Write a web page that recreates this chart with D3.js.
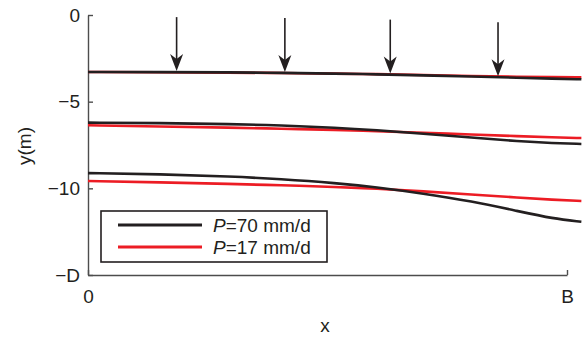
<!DOCTYPE html>
<html>
<head>
<meta charset="utf-8">
<script src="https://cdn.jsdelivr.net/npm/d3@7"></script>
<style>
  body { margin: 0; background: #fff; }
  text { font-family: "Liberation Sans", Arial, sans-serif; fill: #231f20; }
</style>
</head>
<body>
<div id="chart"></div>
<script>
var w = 586;
var h = 339;

// x positions along the slope (0 .. B, B = 1)
var xs = [0, 0.15, 0.3, 0.4, 0.52, 0.6, 0.7, 0.8, 0.9, 0.97, 1.03];

// water table depths, P = 70 mm/d (black)
var black1 = [-3.29, -3.29, -3.31, -3.34, -3.38, -3.42, -3.48, -3.55, -3.62, -3.67, -3.71];
var black2 = [-6.21, -6.23, -6.29, -6.37, -6.50, -6.64, -6.85, -7.07, -7.29, -7.39, -7.44];
var black3 = [-9.12, -9.18, -9.32, -9.46, -9.70, -9.93, -10.30, -10.74, -11.33, -11.74, -11.93];

// P = 17 mm/d (red)
var red1 = [-3.29, -3.30, -3.32, -3.35, -3.38, -3.41, -3.46, -3.52, -3.56, -3.59, -3.60];
var red2 = [-6.36, -6.43, -6.50, -6.56, -6.63, -6.70, -6.79, -6.90, -6.99, -7.06, -7.10];
var red3 = [-9.58, -9.65, -9.75, -9.82, -9.92, -10.02, -10.17, -10.35, -10.54, -10.66, -10.73];

var arrowX = [0.185, 0.411, 0.631, 0.856];

var yTicks = [0, -5, -10, -15];
var yTickLabels = ["0", "\u22125", "\u221210", "\u2212D"];
var xTicks = [0, 1];
var xTickLabels = ["0", "B"];

var legendLabels = ["=70 mm/d", "=17 mm/d"];
var colors = ["#231f20", "#ec1c24"];

var x = d3.scaleLinear().domain([0, 1]).range([88, 567]);
var y = d3.scaleLinear().domain([-15, 0]).range([275, 15]);

var svg = d3.select("#chart").append("svg")
            .attr("width", w)
            .attr("height", h);

// axes
var yAxis = d3.axisLeft(y)
              .tickValues(yTicks)
              .tickFormat(function(d, i) { return yTickLabels[i]; })
              .tickSizeInner(-5)
              .tickSizeOuter(0)
              .tickPadding(8);
var xAxis = d3.axisBottom(x)
              .tickValues(xTicks)
              .tickFormat(function(d, i) { return xTickLabels[i]; })
              .tickSizeInner(-5)
              .tickSizeOuter(0)
              .tickPadding(15);

var gy = svg.append("g").attr("transform", "translate(" + x(0) + ",0)").call(yAxis);
var gx = svg.append("g").attr("transform", "translate(0," + y(-15) + ")").call(xAxis);

[gx, gy].forEach(function(g) {
  g.select(".domain").attr("stroke", "#4d4d4d").attr("stroke-width", 1.4);
  g.selectAll(".tick line").attr("stroke", "#4d4d4d").attr("stroke-width", 1.4);
  g.selectAll(".tick text")
   .style("font-family", "'Liberation Sans', Arial, sans-serif")
   .style("font-size", "19px")
   .attr("fill", "#231f20");
});

// curves
var line = d3.line()
             .x(function(d) { return x(d[0]); })
             .y(function(d) { return y(d[1]); })
             .curve(d3.curveBasis);

var series = [
  { v: red1, c: colors[1] }, { v: red2, c: colors[1] }, { v: red3, c: colors[1] },
  { v: black1, c: colors[0] }, { v: black2, c: colors[0] }, { v: black3, c: colors[0] }
];

svg.selectAll("path.curve")
   .data(series)
   .enter()
   .append("path")
   .attr("class", "curve")
   .attr("d", function(s) { return line(xs.map(function(xv, i) { return [xv, s.v[i]]; })); })
   .attr("fill", "none")
   .attr("stroke", function(s) { return s.c; })
   .attr("stroke-width", 2.6);

// arrows down onto the top curve
var tipAt = function(xv) {
  var i = d3.bisectRight(xs, xv) - 1;
  var t = (xv - xs[i]) / (xs[i + 1] - xs[i]);
  return black1[i] + t * (black1[i + 1] - black1[i]);
};

var arrows = svg.selectAll("g.arrow")
   .data(arrowX)
   .enter()
   .append("g")
   .attr("class", "arrow")
   .attr("transform", function(d) { return "translate(" + x(d) + "," + (y(tipAt(d)) - 1) + ")"; });

arrows.append("line")
      .attr("x1", 0).attr("x2", 0)
      .attr("y1", -54).attr("y2", -8)
      .attr("stroke", "#231f20")
      .attr("stroke-width", 1.6);

arrows.append("path")
      .attr("d", "M0,0 L-6.5,-17 L0,-12 L6.5,-17 Z")
      .attr("fill", "#231f20");

// legend
var legend = svg.append("g");
legend.append("rect")
      .attr("x", 101).attr("y", 211)
      .attr("width", 226).attr("height", 51)
      .attr("fill", "#fff")
      .attr("stroke", "#231f20")
      .attr("stroke-width", 1.6);

var items = legend.selectAll("g.item")
      .data(legendLabels)
      .enter()
      .append("g")
      .attr("class", "item")
      .attr("transform", function(d, i) { return "translate(0," + (225 + i * 22) + ")"; });

items.append("line")
     .attr("x1", 118).attr("x2", 202)
     .attr("stroke", function(d, i) { return colors[i]; })
     .attr("stroke-width", 3);

var lt = items.append("text")
     .attr("x", 213)
     .attr("dy", "0.36em")
     .style("font-size", "19px");
lt.append("tspan").style("font-style", "italic").text("P");
lt.append("tspan").text(function(d) { return d; });

// axis titles
svg.append("text")
   .attr("x", 325).attr("y", 332)
   .attr("text-anchor", "middle")
   .style("font-size", "19px")
   .text("x");

svg.append("text")
   .attr("transform", "translate(31,146) rotate(-90)")
   .attr("text-anchor", "middle")
   .style("font-size", "19px")
   .text("y(m)");
</script>
</body>
</html>
